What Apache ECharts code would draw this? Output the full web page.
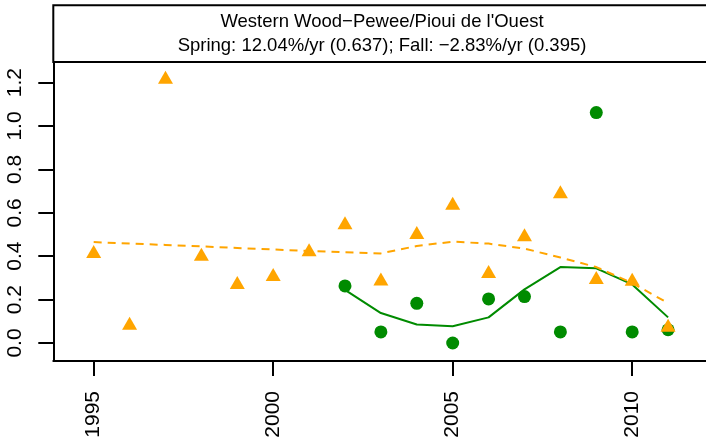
<!DOCTYPE html>
<html>
<head>
<meta charset="utf-8">
<script src="https://cdn.jsdelivr.net/npm/echarts@6/dist/echarts.min.js"></script>
<style>
  html, body { margin: 0; padding: 0; background: #fff; }
  #chart { width: 706px; height: 442px; }
</style>
</head>
<body>
<div id="chart"></div>
<script>
// Survey years
const years = [1995, 1996, 1997, 1998, 1999, 2000, 2001, 2002, 2003, 2004,
               2005, 2006, 2007, 2008, 2009, 2010, 2011];
// Orange triangles and their dashed trend (whole period)
const triangleVals = [0.412, 0.082, 1.215, 0.400, 0.270, 0.307, 0.421, 0.545, 0.286,
                      0.500, 0.635, 0.320, 0.490, 0.688, 0.293, 0.284, 0.072];
const triangleTrend = [0.465, 0.458, 0.452, 0.445, 0.438, 0.431, 0.424, 0.418, 0.413,
                       0.447, 0.467, 0.458, 0.435, 0.394, 0.350, 0.276, 0.184];
// Green circles and their solid trend (2002 onward)
const circleYears = [2002, 2003, 2004, 2005, 2006, 2007, 2008, 2009, 2010, 2011];
const circleVals = [0.263, 0.051, 0.183, 0.000, 0.203, 0.214, 0.051, 1.062, 0.051, 0.061];
const circleTrend = [0.245, 0.138, 0.085, 0.077, 0.118, 0.247, 0.350, 0.344, 0.270, 0.118];

const xTicks = [1995, 2000, 2005, 2010];
const yTicks = [0, 0.2, 0.4, 0.6, 0.8, 1.0, 1.2];

const titleLine1 = 'Western Wood\u2212Pewee/Pioui de l\'Ouest';
const titleLine2 = 'Spring: 12.04%/yr (0.637); Fall: \u22122.83%/yr (0.395)';

const ORANGE = '#FFA500';
const GREEN = '#008B00';
const FONT = '"Liberation Sans", Arial, Helvetica, sans-serif';

function pairs(xs, ys) {
    return xs.map((x, i) => [x, ys[i]]);
}

const chart = echarts.init(document.getElementById('chart'), null, { renderer: 'canvas' });

const option = {
    animation: false,
    backgroundColor: '#fff',
    textStyle: { fontFamily: FONT },
    graphic: [
        // title box; its bottom edge is also the top of the plot frame
        {
            type: 'rect',
            shape: { x: 53.3, y: 5.3, width: 700, height: 56.7 },
            style: { fill: null, stroke: '#000', lineWidth: 2 }
        },
        {
            type: 'text',
            style: {
                text: titleLine1, x: 382, y: 21.5,
                textAlign: 'center', textVerticalAlign: 'middle',
                font: '18.5px ' + FONT, fill: '#000'
            }
        },
        {
            type: 'text',
            style: {
                text: titleLine2, x: 382, y: 46,
                textAlign: 'center', textVerticalAlign: 'middle',
                font: '18.5px ' + FONT, fill: '#000'
            }
        }
    ],
    grid: {
        left: 53.3, top: 62, right: 0, height: 299,
        show: false, containLabel: false
    },
    xAxis: {
        type: 'value',
        min: 1993.875, max: 2012.056,
        splitLine: { show: false },
        axisLine: { show: true, onZero: false, lineStyle: { color: '#000', width: 2 } },
        axisTick: { show: true, length: 15, lineStyle: { color: '#000', width: 2 }, customValues: xTicks },
        axisLabel: {
            rotate: 90, margin: 30, color: '#000', fontSize: 21, fontFamily: FONT,
            customValues: xTicks, formatter: v => String(v)
        }
    },
    yAxis: {
        type: 'value',
        min: -0.083, max: 1.295,
        splitLine: { show: false },
        axisLine: { show: true, onZero: false, lineStyle: { color: '#000', width: 2 } },
        axisTick: { show: true, length: 15, lineStyle: { color: '#000', width: 2 }, customValues: yTicks },
        axisLabel: {
            rotate: 90, margin: 28, color: '#000', fontSize: 21, fontFamily: FONT,
            customValues: yTicks, formatter: v => v.toFixed(1)
        }
    },
    series: [
        {
            name: 'circles',
            type: 'scatter',
            data: pairs(circleYears, circleVals),
            symbol: 'circle',
            symbolSize: 13,
            itemStyle: { color: GREEN, opacity: 1 },
            z: 2
        },
        {
            name: 'circle trend',
            type: 'line',
            data: pairs(circleYears, circleTrend),
            showSymbol: false,
            smooth: false,
            lineStyle: { color: GREEN, width: 2, type: 'solid' },
            z: 3
        },
        {
            name: 'triangles',
            type: 'scatter',
            data: pairs(years, triangleVals),
            symbol: 'triangle',
            symbolSize: [15, 13],
            symbolOffset: [0, -2],
            itemStyle: { color: ORANGE, opacity: 1 },
            z: 4
        },
        {
            name: 'triangle trend',
            type: 'line',
            data: pairs(years, triangleTrend),
            showSymbol: false,
            smooth: false,
            lineStyle: { color: ORANGE, width: 2, type: [8, 6] },
            z: 5
        }
    ]
};

chart.setOption(option);
</script>
</body>
</html>
